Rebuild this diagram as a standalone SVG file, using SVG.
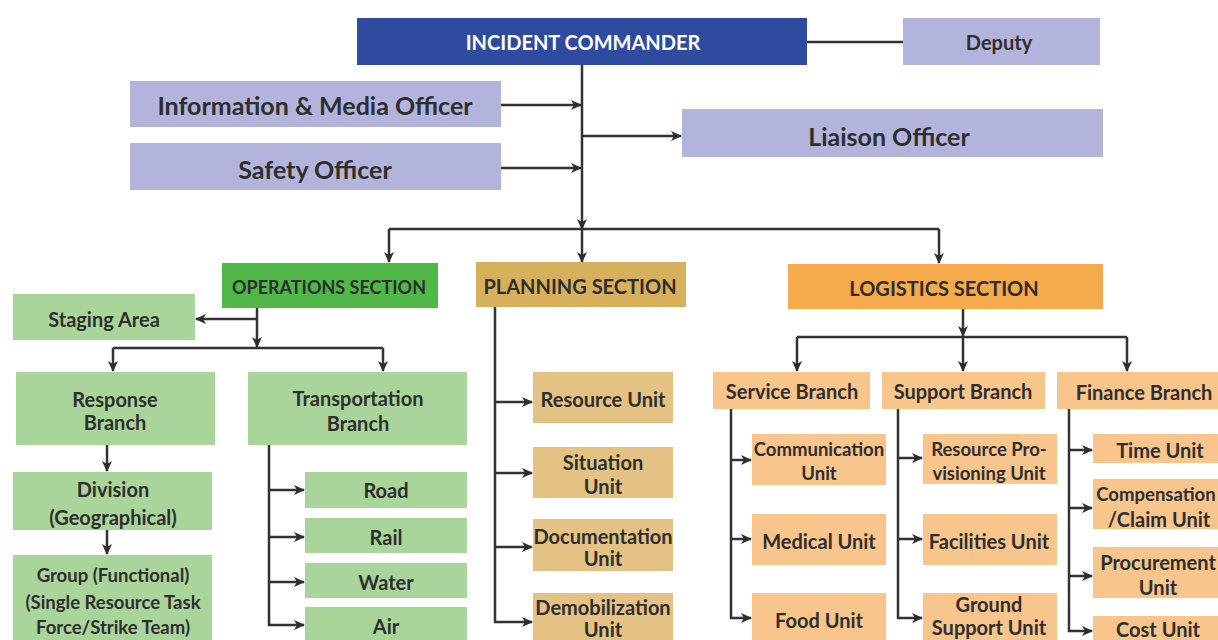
<svg xmlns="http://www.w3.org/2000/svg" width="1218" height="640" viewBox="0 0 1218 640">
<style>
.t{font-family:Lato,"Open Sans","Liberation Sans",sans-serif;font-weight:700;fill:#2e2e2e;text-anchor:middle;dominant-baseline:central;font-size:20px}
.big{font-size:25px}
.sm{font-size:18.5px}
.ops{font-size:18px}
.w{fill:#ffffff}
.ln{fill:none;stroke:#333333;stroke-width:2.5}
.a{marker-end:url(#ah)}
.blue{fill:#2f4b9f}
.lav{fill:#b3b4dc}
.gs{fill:#4fb848}
.gl{fill:#a9d59b}
.ps{fill:#d7b05b}
.pl{fill:#e3c284}
.os{fill:#f5aa4c}
.ol{fill:#f8c58d}
</style>
<defs>
<marker id="ah" markerWidth="11" markerHeight="11" refX="10" refY="5.5" orient="auto" markerUnits="userSpaceOnUse">
<path d="M0,0.5 L11,5.5 L0,10.5 L3,5.5 Z" fill="#2e2e2e"/>
</marker>
</defs>
<rect width="1218" height="640" fill="#ffffff"/>

<g id="connectors">
<path class="ln" d="M807,42 H903"/>
<path class="ln a" d="M582,65 V229"/>
<path class="ln a" d="M582,229 V262"/>
<path class="ln a" d="M501,105 H581"/>
<path class="ln a" d="M501,168 H581"/>
<path class="ln a" d="M582,136 H681"/>
<path class="ln" d="M389,229 H939"/>
<path class="ln a" d="M389,229 V262"/>
<path class="ln a" d="M939,229 V263"/>
<path class="ln a" d="M257,308 V347"/>
<path class="ln a" d="M257,319 H196"/>
<path class="ln" d="M113,348 H383"/>
<path class="ln a" d="M113,348 V371"/>
<path class="ln a" d="M383,348 V371"/>
<path class="ln a" d="M107,445 V471"/>
<path class="ln a" d="M107,530 V554"/>
<path class="ln a" d="M269,445 V625 H304"/>
<path class="ln a" d="M269,490 H304"/>
<path class="ln a" d="M269,537 H304"/>
<path class="ln a" d="M269,582 H304"/>
<path class="ln a" d="M495,307 V622 H532"/>
<path class="ln a" d="M495,402 H532"/>
<path class="ln a" d="M495,473 H532"/>
<path class="ln a" d="M495,547 H532"/>
<path class="ln a" d="M963,308 V336"/>
<path class="ln" d="M797,337 H1127"/>
<path class="ln a" d="M797,337 V371"/>
<path class="ln a" d="M963,337 V371"/>
<path class="ln a" d="M1127,337 V371"/>
<path class="ln a" d="M731,409 V618 H751"/>
<path class="ln a" d="M731,460 H751"/>
<path class="ln a" d="M731,539 H751"/>
<path class="ln a" d="M898,409 V618 H922"/>
<path class="ln a" d="M898,458 H922"/>
<path class="ln a" d="M898,539 H922"/>
<path class="ln a" d="M1069,409 V631 H1092"/>
<path class="ln a" d="M1069,450 H1092"/>
<path class="ln a" d="M1069,508 H1092"/>
<path class="ln a" d="M1069,576 H1092"/>
</g>

<g id="incident-commander"><rect class="blue" x="357" y="18" width="450" height="47"/><text class="t w" x="583" y="42">INCIDENT COMMANDER</text></g>
<g id="deputy"><rect class="lav" x="903" y="18" width="197" height="47"/><text class="t" x="999" y="42">Deputy</text></g>
<g id="info-media"><rect class="lav" x="130" y="81" width="371" height="46"/><text class="t big" x="315" y="105">Information &amp; Media Officer</text></g>
<g id="safety"><rect class="lav" x="130" y="143" width="371" height="47"/><text class="t big" x="315" y="169">Safety Officer</text></g>
<g id="liaison"><rect class="lav" x="682" y="109" width="421" height="48"/><text class="t big" x="889" y="136">Liaison Officer</text></g>

<g id="operations"><rect class="gs" x="222" y="263" width="216" height="45"/><text class="t ops" x="329" y="287">OPERATIONS SECTION</text></g>
<g id="planning"><rect class="ps" x="476" y="262" width="210" height="45"/><text class="t" x="580" y="286">PLANNING SECTION</text></g>
<g id="logistics"><rect class="os" x="788" y="264" width="315" height="45"/><text class="t" x="944" y="288">LOGISTICS SECTION</text></g>

<g id="staging"><rect class="gl" x="13" y="294" width="182" height="46"/><text class="t" x="104" y="319">Staging Area</text></g>
<g id="response"><rect class="gl" x="16" y="372" width="199" height="73"/><text class="t" x="115" y="399">Response</text><text class="t" x="115" y="422">Branch</text></g>
<g id="transportation"><rect class="gl" x="248" y="372" width="219" height="73"/><text class="t" x="358" y="398">Transportation</text><text class="t" x="358" y="423">Branch</text></g>
<g id="division"><rect class="gl" x="13" y="472" width="199" height="58"/><text class="t" x="113" y="489">Division</text><text class="t" x="113" y="517">(Geographical)</text></g>
<g id="group"><rect class="gl" x="13" y="555" width="199" height="90"/><text class="t sm" x="113" y="575">Group (Functional)</text><text class="t sm" x="113" y="602">(Single Resource Task</text><text class="t sm" x="113" y="627">Force/Strike Team)</text></g>
<g id="road"><rect class="gl" x="305" y="472" width="162" height="36"/><text class="t" x="386" y="490">Road</text></g>
<g id="rail"><rect class="gl" x="305" y="518" width="162" height="35"/><text class="t" x="386" y="537">Rail</text></g>
<g id="water"><rect class="gl" x="305" y="563" width="162" height="35"/><text class="t" x="386" y="582">Water</text></g>
<g id="air"><rect class="gl" x="305" y="607" width="162" height="40"/><text class="t" x="386" y="626">Air</text></g>

<g id="resource-unit"><rect class="pl" x="533" y="372" width="140" height="51"/><text class="t" x="603" y="399">Resource Unit</text></g>
<g id="situation-unit"><rect class="pl" x="533" y="447" width="140" height="51"/><text class="t" x="603" y="462">Situation</text><text class="t" x="603" y="486">Unit</text></g>
<g id="documentation-unit"><rect class="pl" x="533" y="519" width="140" height="52"/><text class="t" x="603" y="536">Documentation</text><text class="t" x="603" y="558">Unit</text></g>
<g id="demobilization-unit"><rect class="pl" x="533" y="593" width="140" height="52"/><text class="t" x="603" y="607">Demobilization</text><text class="t" x="603" y="629">Unit</text></g>

<g id="service-branch"><rect class="ol" x="713" y="372" width="157" height="37"/><text class="t" x="792" y="391">Service Branch</text></g>
<g id="support-branch"><rect class="ol" x="882" y="372" width="163" height="37"/><text class="t" x="963" y="391">Support Branch</text></g>
<g id="finance-branch"><rect class="ol" x="1057" y="372" width="161" height="37"/><text class="t" x="1144" y="392">Finance Branch</text></g>

<g id="communication-unit"><rect class="ol" x="752" y="434" width="134" height="51"/><text class="t sm" x="819" y="449">Communication</text><text class="t sm" x="819" y="473">Unit</text></g>
<g id="medical-unit"><rect class="ol" x="752" y="514" width="134" height="51"/><text class="t" x="819" y="541">Medical Unit</text></g>
<g id="food-unit"><rect class="ol" x="752" y="593" width="134" height="52"/><text class="t" x="819" y="620">Food Unit</text></g>

<g id="resource-provisioning-unit"><rect class="ol" x="923" y="434" width="134" height="50"/><text class="t sm" x="989" y="449">Resource Pro-</text><text class="t sm" x="989" y="473">visioning Unit</text></g>
<g id="facilities-unit"><rect class="ol" x="923" y="514" width="134" height="51"/><text class="t" x="989" y="541">Facilities Unit</text></g>
<g id="ground-support-unit"><rect class="ol" x="923" y="593" width="134" height="52"/><text class="t" x="989" y="604">Ground</text><text class="t" x="989" y="627">Support Unit</text></g>

<g id="time-unit"><rect class="ol" x="1093" y="434" width="130" height="29"/><text class="t" x="1160" y="450">Time Unit</text></g>
<g id="compensation-unit"><rect class="ol" x="1093" y="479" width="130" height="50"/><text class="t sm" x="1156" y="494">Compensation</text><text class="t" x="1159" y="519">/Claim Unit</text></g>
<g id="procurement-unit"><rect class="ol" x="1093" y="547" width="130" height="51"/><text class="t" x="1158" y="562">Procurement</text><text class="t" x="1158" y="587">Unit</text></g>
<g id="cost-unit"><rect class="ol" x="1093" y="616" width="130" height="30"/><text class="t" x="1158" y="629">Cost Unit</text></g>
</svg>
